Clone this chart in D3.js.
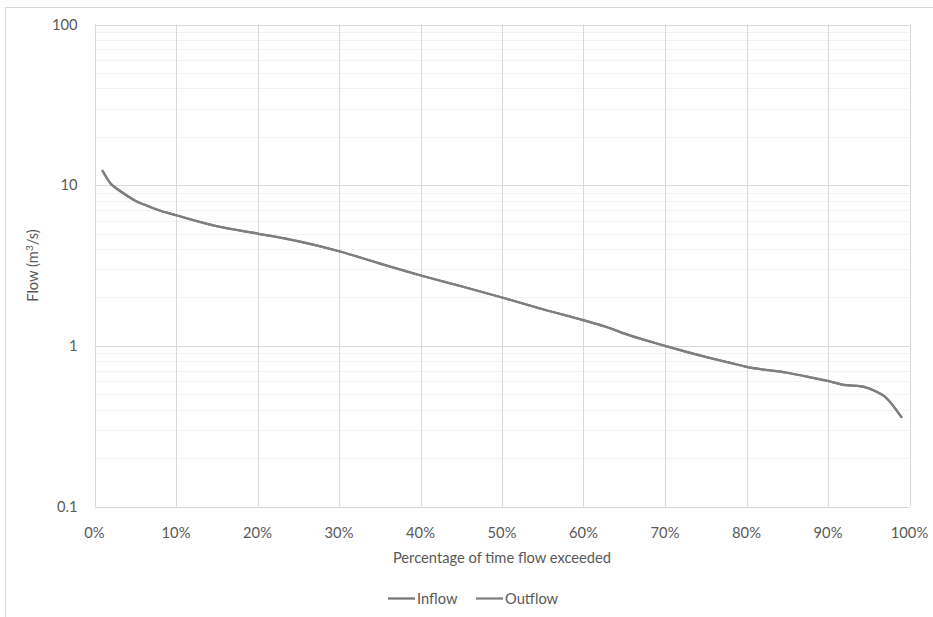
<!DOCTYPE html>
<html>
<head>
<meta charset="utf-8">
<script src="https://cdn.jsdelivr.net/npm/d3@7"></script>
<style>
    body { margin: 0; background: #fff; }
    svg text { font-family: Lato, "Open Sans", sans-serif; fill: #595959; }
</style>
</head>
<body>
<svg id="chart" width="933" height="617"></svg>
<script>
// Flow duration data (percent of time exceeded, flow in m3/s)
const percentExceeded = [1, 2, 3, 4, 5, 6, 8, 10, 15, 20, 25, 30, 35, 40, 45, 50, 55, 60, 63, 65, 70, 75, 78, 80, 85, 88, 90, 92, 94, 96, 97, 99];
const inflow = [12.3, 10.2, 9.3, 8.6, 8.0, 7.6, 6.95, 6.5, 5.56, 5.0, 4.48, 3.88, 3.26, 2.75, 2.35, 2.0, 1.69, 1.445, 1.30, 1.195, 1.0, 0.854, 0.784, 0.74, 0.68, 0.635, 0.605, 0.571, 0.561, 0.517, 0.482, 0.361];
const outflow = [12.2, 10.2, 9.3, 8.6, 8.0, 7.6, 6.95, 6.5, 5.55, 5.0, 4.47, 3.88, 3.25, 2.74, 2.35, 2.0, 1.69, 1.44, 1.30, 1.19, 1.0, 0.852, 0.783, 0.74, 0.68, 0.634, 0.604, 0.57, 0.56, 0.516, 0.481, 0.36];
const seriesNames = ['Inflow', 'Outflow'];
const seriesColors = ['#767676', '#7f7f7f'];
const xTicks = [0, 10, 20, 30, 40, 50, 60, 70, 80, 90, 100];
const yTicks = [0.1, 1, 10, 100];

const svg = d3.select('#chart');
const fontSize = 14.7;

// Outer chart border (runs off the right and bottom edges)
svg.append('rect')
    .attr('x', 5.5).attr('y', 7.5)
    .attr('width', 960).attr('height', 640)
    .attr('fill', 'none')
    .attr('stroke', '#d9d9d9');

const plot = { left: 94.5, right: 909.5, top: 24.5, bottom: 506.5 };

const x = d3.scaleLinear().domain([0, 100]).range([plot.left, plot.right]);
const y = d3.scaleLog().domain([0.1, 100]).range([plot.bottom, plot.top]);

// Minor gridlines (2..9 within each decade)
const minor = [];
[0.1, 1, 10].forEach(d => {
    for (let k = 2; k <= 9; k++) minor.push(d * k);
});
svg.append('g')
    .selectAll('line')
    .data(minor)
    .enter()
    .append('line')
    .attr('x1', plot.left).attr('x2', plot.right)
    .attr('y1', d => Math.round(y(d)) + 0.5)
    .attr('y2', d => Math.round(y(d)) + 0.5)
    .attr('stroke', '#f2f2f2');

// Major horizontal gridlines
svg.append('g')
    .selectAll('line')
    .data(yTicks)
    .enter()
    .append('line')
    .attr('x1', plot.left).attr('x2', plot.right)
    .attr('y1', d => Math.round(y(d)) + 0.5)
    .attr('y2', d => Math.round(y(d)) + 0.5)
    .attr('stroke', '#d9d9d9');

// Vertical gridlines
svg.append('g')
    .selectAll('line')
    .data(xTicks)
    .enter()
    .append('line')
    .attr('x1', d => Math.round(x(d)) + 0.5)
    .attr('x2', d => Math.round(x(d)) + 0.5)
    .attr('y1', plot.top).attr('y2', plot.bottom)
    .attr('stroke', '#d9d9d9');

// Tick labels
svg.append('g')
    .selectAll('text')
    .data(xTicks)
    .enter()
    .append('text')
    .attr('x', d => x(d))
    .attr('y', 537.5)
    .attr('text-anchor', 'middle')
    .attr('font-size', fontSize)
    .text(d => d + '%');

svg.append('g')
    .selectAll('text')
    .data(yTicks)
    .enter()
    .append('text')
    .attr('x', 77.5)
    .attr('y', d => y(d) + 5)
    .attr('text-anchor', 'end')
    .attr('font-size', fontSize)
    .text(d => d3.format('~g')(d));

// Axis titles
svg.append('text')
    .attr('x', (plot.left + plot.right) / 2)
    .attr('y', 562.5)
    .attr('text-anchor', 'middle')
    .attr('font-size', fontSize)
    .text('Percentage of time flow exceeded');

const yTitle = svg.append('text')
    .attr('transform', `translate(38, ${(plot.top + plot.bottom) / 2}) rotate(-90)`)
    .attr('text-anchor', 'middle')
    .attr('font-size', fontSize);
yTitle.append('tspan').text('Flow (m');
yTitle.append('tspan').attr('font-size', 10).attr('dy', -5).text('3');
yTitle.append('tspan').attr('dy', 5).text('/s)');

// Lines
const line = d3.line()
    .x(d => x(d[0]))
    .y(d => y(d[1]))
    .curve(d3.curveMonotoneX);

[inflow, outflow].forEach((values, i) => {
    svg.append('path')
        .datum(percentExceeded.map((p, j) => [p, values[j]]))
        .attr('d', line)
        .attr('fill', 'none')
        .attr('stroke', seriesColors[i])
        .attr('stroke-width', 2.25)
        .attr('stroke-linejoin', 'round')
        .attr('stroke-linecap', 'round');
});

// Legend
const legend = svg.append('g');
const legendX = [388, 476];
seriesNames.forEach((name, i) => {
    legend.append('line')
        .attr('x1', legendX[i]).attr('x2', legendX[i] + 27)
        .attr('y1', 598.5).attr('y2', 598.5)
        .attr('stroke', seriesColors[i])
        .attr('stroke-width', 2.25);
    legend.append('text')
        .attr('x', legendX[i] + 29)
        .attr('y', 603.5)
        .attr('font-size', fontSize)
        .text(name);
});
</script>
</body>
</html>
